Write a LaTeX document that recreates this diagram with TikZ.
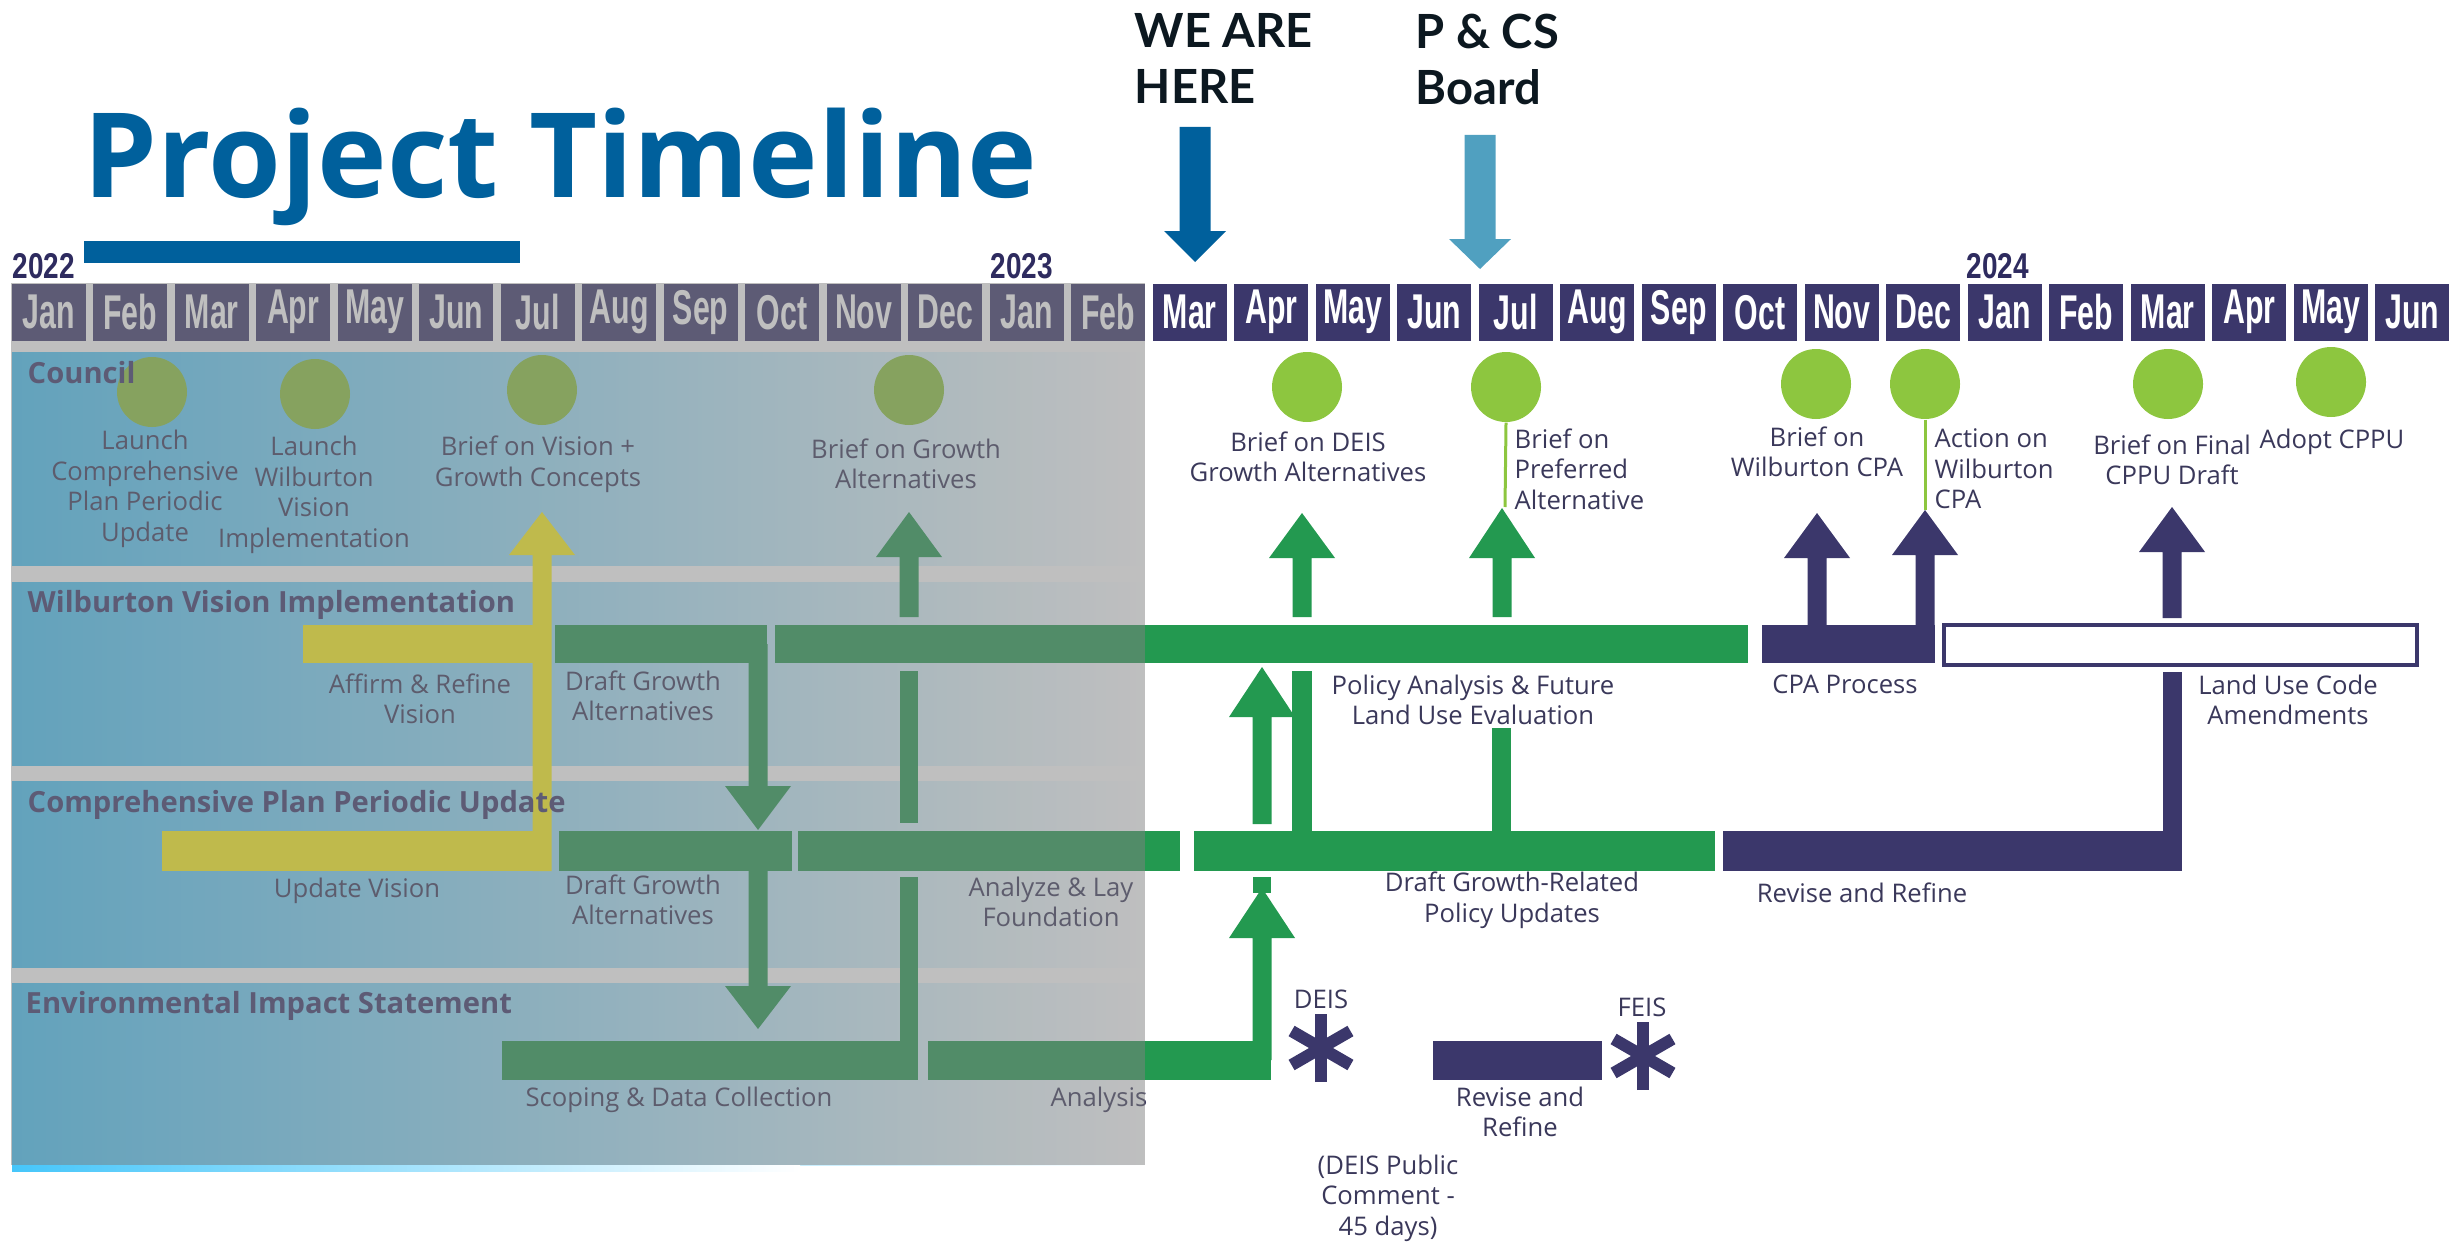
\documentclass[tikz,border=0pt]{standalone}
\usepackage{fontspec}
\setmainfont{Open Sans}
\newfontfamily\monthfont{Liberation Sans}[FakeStretch=0.62]
\newfontfamily\yearfont{Liberation Sans}[FakeStretch=0.78]
\newfontfamily\markfont{Lato}
\usepackage{tikz}
\usetikzlibrary{positioning}

\tikzstyle{monthbox} = [fill=navy, text=white, minimum width=7.4mm, minimum height=5.7mm, inner sep=0pt, anchor=north west, font=\monthfont\bfseries\fontsize{13.9}{14}\selectfont]
\tikzstyle{yearlbl} = [anchor=base west, inner sep=0pt, text=yearnavy, font=\yearfont\bfseries\fontsize{10.2}{10}\selectfont]
\tikzstyle{milestone} = [circle, fill=dotgreen, minimum size=7mm, inner sep=0pt]
\tikzstyle{lbl} = [align=center, inner sep=0pt, text=labelnavy, font=\fontsize{7.3}{8.7}\selectfont]
\tikzstyle{lanehead} = [anchor=base west, inner sep=0pt, text=navy, font=\bfseries\fontsize{8.3}{9}\selectfont]
\tikzstyle{herelbl} = [anchor=north west, align=left, inner sep=0pt, text=markblack, font=\markfont\bfseries\fontsize{13.4}{15.9}\selectfont]
\tikzstyle{thinstem} = [draw=dotgreen, line width=0.3mm]
\tikzstyle{asterisk} = [draw=navy, line width=1.2mm]

% block arrow: colour, x, start, base of head, tip
\newcommand{\blockarrow}[5]{%
  \fill[#1] ({#2-\shaftw},#3) -- ({#2-\shaftw},#4) -- ({#2-\headw},#4) -- (#2,#5)
    -- ({#2+\headw},#4) -- ({#2+\shaftw},#4) -- ({#2+\shaftw},#3) -- cycle;}

\begin{document}
\begin{tikzpicture}[x=0.1mm,y=-0.1mm]
  % Local definitions
  \def\shaftw{9.5}
  \def\headw{33}

  % Colors
  \definecolor{navy}{RGB}{59,55,107}
  \definecolor{yearnavy}{RGB}{46,43,95}
  \definecolor{bargreen}{RGB}{35,153,80}
  \definecolor{dotgreen}{RGB}{141,198,63}
  \definecolor{visionyellow}{RGB}{255,246,25}
  \definecolor{lanecyan}{RGB}{70,198,250}
  \definecolor{titleblue}{RGB}{0,96,156}
  \definecolor{boardblue}{RGB}{80,160,192}
  \definecolor{labelnavy}{RGB}{58,56,90}
  \definecolor{markblack}{RGB}{12,24,32}

  \useasboundingbox (0,0) rectangle (2458,1252);

  % Lanes
  \foreach \ya/\yb in {352/565,582/765,781/967,983/1165}
    \shade[left color=lanecyan, middle color=lanecyan!12, right color=white] (12,\ya) rectangle (1145,\yb);

  % Council milestones
  \node[milestone] (c1) at (152,392) {};
  \node[milestone] (c2) at (315,394) {};
  \node[milestone] (c3) at (542,390) {};
  \node[milestone] (c4) at (909,390) {};
  \node[milestone] (c5) at (1307,387) {};
  \node[milestone] (c6) at (1506,387) {};
  \node[milestone] (c7) at (1816,384) {};
  \node[milestone] (c8) at (1925,384) {};
  \node[milestone] (c9) at (2168,384) {};
  \node[milestone] (c10) at (2331,382) {};

  \coordinate (t6) at (1505,507);
  \coordinate (t8) at (1925,510);
  \draw[thinstem] (c6.south) -- (t6);
  \draw[thinstem] (c8.south) -- (t8);

  \node[lbl] (l1) at (145,489) {Launch\\Comprehensive\\Plan Periodic\\Update};
  \node[lbl] (l2) at (314,495) {Launch\\Wilburton\\Vision\\Implementation};
  \node[lbl] (l3) at (538,464) {Brief on Vision +\\Growth Concepts};
  \node[lbl] (l4) at (906,464) {Brief on Growth\\Alternatives};
  \node[lbl] (l5) at (1308,457) {Brief on DEIS\\Growth Alternatives};
  \node[lbl, anchor=west, align=left] (l6) at (1514,469) {Brief on\\Preferred\\Alternative};
  \node[lbl] (l7) at (1817,452) {Brief on\\Wilburton CPA};
  \node[lbl, anchor=west, align=left] (l8) at (1934,469) {Action on\\Wilburton\\CPA};
  \node[lbl] (l9) at (2172,460) {Brief on Final\\CPPU Draft};
  \node[lbl] (l10) at (2332,442) {Adopt CPPU};

  % Vision (yellow)
  \fill[visionyellow] (303,625) rectangle (551,663);
  \fill[visionyellow] (162,831) rectangle (551,871);
  \blockarrow{visionyellow}{542}{871}{555}{512}

  % Wilburton row
  \fill[bargreen] (555,625) rectangle (767,663);
  \fill[bargreen] (775,625) rectangle (1748,663);
  \fill[navy] (1762,625) rectangle (1935,663);
  \draw[navy, line width=0.4mm, fill=white] (1944,625) rectangle (2417,665);

  % Comprehensive plan row
  \fill[bargreen] (559,831) rectangle (792,871);
  \fill[bargreen] (798,831) rectangle (1180,871);
  \fill[bargreen] (1194,831) rectangle (1715,871);
  \fill[navy] (1723,831) rectangle (2182,871);
  \fill[navy] (2163,672) rectangle (2182,851);

  % EIS row
  \fill[bargreen] (502,1041) rectangle (918,1080);
  \fill[bargreen] (928,1041) rectangle (1271,1080);
  \fill[navy] (1433,1041) rectangle (1602,1080);

  % Links between rows
  \blockarrow{bargreen}{909}{617}{557}{512}
  \fill[bargreen] (900,671) rectangle (918,823);
  \fill[bargreen] (900,877) rectangle (918,1060);
  \blockarrow{bargreen}{758}{644}{786}{830}
  \blockarrow{bargreen}{758}{851}{986}{1029}
  \blockarrow{bargreen}{1302}{617}{558}{513}
  \blockarrow{bargreen}{1502}{617}{558}{508}
  \fill[bargreen] (1292,671) rectangle (1312,851);
  \fill[bargreen] (1492,728) rectangle (1511,851);
  \blockarrow{bargreen}{1262}{824}{717}{667}
  \fill[bargreen] (1253,877) rectangle (1271,893);
  \blockarrow{bargreen}{1262}{1060}{938}{888}
  \blockarrow{navy}{1817}{644}{558}{513}
  \blockarrow{navy}{1925}{644}{555}{510}
  \blockarrow{navy}{2172}{618}{552}{507}

  % DEIS and FEIS
  \coordinate (deisstar) at (1321,1048);
  \coordinate (feisstar) at (1643,1056);
  \foreach \a in {90,30,150} {
    \draw[asterisk] ([shift={(\a:34)}]deisstar) -- ([shift={(\a+180:34)}]deisstar);
    \draw[asterisk] ([shift={(\a:34)}]feisstar) -- ([shift={(\a+180:34)}]feisstar);
  }

  \node[lbl] (affirm) at (420,699) {Affirm \& Refine\\Vision};
  \node[lbl] (draftw) at (643,696) {Draft Growth\\Alternatives};
  \node[lbl] (policy) at (1473,700) {Policy Analysis \& Future\\Land Use Evaluation};
  \node[lbl] (cpa) at (1845,684) {CPA Process};
  \node[lbl] (landuse) at (2288,700) {Land Use Code\\Amendments};
  \node[lbl] (updvision) at (357,891) {Update Vision};
  \node[lbl] (draftc) at (643,900) {Draft Growth\\Alternatives};
  \node[lbl] (analyze) at (1051,902) {Analyze \& Lay\\Foundation};
  \node[lbl] (draftgr) at (1512,900) {Draft Growth-Related\\Policy Updates};
  \node[lbl] (revisec) at (1862,893) {Revise and Refine};
  \node[lbl] (scoping) at (679,1100) {Scoping \& Data Collection};
  \node[lbl] (analysis) at (1099,1100) {Analysis};
  \node[lbl] (deis) at (1321,999) {DEIS};
  \node[lbl] (feis) at (1642,1007) {FEIS};
  \node[lbl] (revisee) at (1520,1112) {Revise and\\Refine};
  \node[lbl] (comment) at (1388,1198) {(DEIS Public\\Comment -\\45 days)};

  % Lane titles
  \node[lanehead] (council) at (27,383) {Council};
  \node[lanehead] (wilburton) at (27,612) {Wilburton Vision Implementation};
  \node[lanehead] (cppu) at (27,812) {Comprehensive Plan Periodic Update};
  \node[lanehead] (eis) at (25,1013) {Environmental Impact Statement};

  % Months
  \foreach \m [count=\i from 0] in {Jan,Feb,Mar,Apr,May,Jun,Jul,Aug,Sep,Oct,Nov,Dec,Jan,Feb,Mar,Apr,May,Jun,Jul,Aug,Sep,Oct,Nov,Dec,Jan,Feb,Mar,Apr,May,Jun}
    \node[monthbox] (m\i) at ({11+81.5*\i},283) {\m};

  % Past months greyed out
  \fill[black!50, opacity=0.5] (11,283) rectangle (1145,1165);
  \shade[left color=lanecyan, right color=white] (12,1165) rectangle (800,1171);

  \node[yearlbl] (y2022) at (12,278) {2022};
  \node[yearlbl] (y2023) at (990,278) {2023};
  \node[yearlbl] (y2024) at (1966,278) {2024};

  % Title
  \node[anchor=base west, inner sep=0pt, text=titleblue, font=\bfseries\fontsize{33.5}{40}\selectfont] (title) at (83,197) {Project Timeline};
  \fill[titleblue] (84,241) rectangle (520,263);

  % Where we are
  \node[herelbl] (here) at (1134,13) {WE ARE\\HERE};
  \node[herelbl] (board) at (1415,13) {P \& CS\\Board};
  \begin{scope}
    \def\shaftw{15.5}
    \def\headw{31}
    \blockarrow{titleblue}{1195}{127}{231}{262}
    \blockarrow{boardblue}{1480}{135}{239}{269}
  \end{scope}
\end{tikzpicture}
\end{document}
